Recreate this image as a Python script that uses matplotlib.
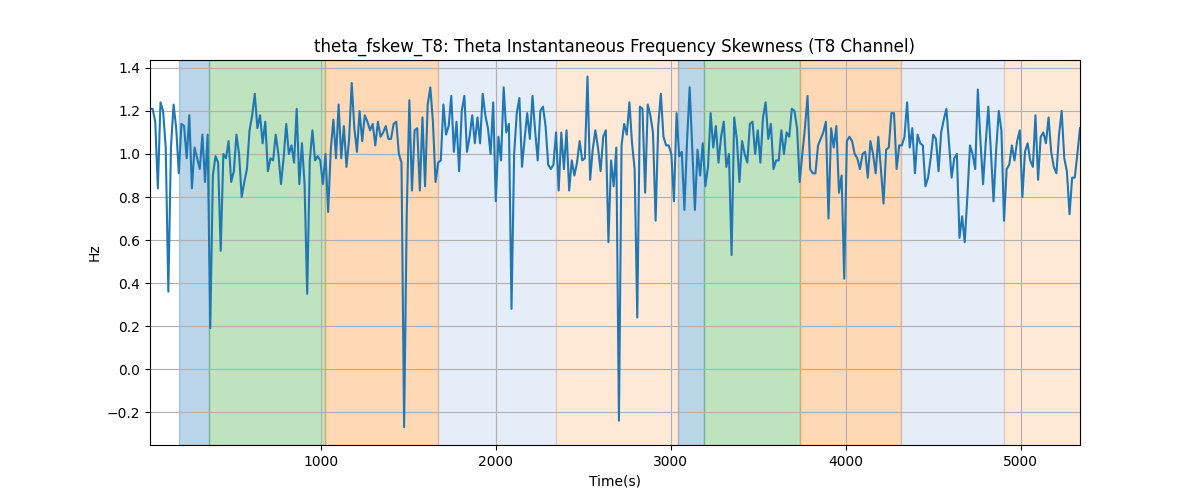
import numpy as np
import matplotlib
matplotlib.use("Agg")
import matplotlib.pyplot as plt

# skewness values, left to right
values = [
    1.21, 1.21, 1.15, 0.84, 1.24, 1.20, 1.03, 0.36, 1.03, 1.23, 1.12, 0.91,
    1.14, 1.13, 0.98, 1.18, 0.84, 1.03, 0.98, 0.93, 1.09, 0.87, 1.09, 0.19,
    0.90, 0.99, 0.96, 0.55, 1.00, 0.98, 1.06, 0.87, 0.92, 1.09, 1.00, 0.80,
    0.87, 0.93, 1.11, 1.18, 1.28, 1.12, 1.18, 1.05, 1.15, 0.92, 0.98, 0.97,
    1.09, 1.00, 0.86, 0.98, 1.14, 1.00, 1.04, 0.96, 1.21, 0.86, 1.05, 0.86,
    0.35, 0.97, 1.11, 0.97, 0.99, 0.97, 0.86, 1.00, 0.73, 1.02, 1.16, 0.98,
    1.23,
    0.98, 1.13, 0.94, 1.07, 1.33, 1.12, 1.01, 1.20, 1.06, 1.18, 1.15, 1.11,
    1.14, 1.04, 1.15, 1.08, 1.10, 1.13, 1.07, 1.07, 1.14, 1.15, 1.00, 0.96,
    -0.27, 0.72, 1.25, 0.83, 1.11, 1.12, 0.83, 1.17, 0.85, 1.23, 1.31, 1.15,
    0.87, 0.96, 0.97, 1.23, 1.09, 1.13, 1.27, 1.01, 1.15, 0.92, 1.20, 1.27,
    1.01, 1.08, 1.18, 1.05, 1.17, 1.05, 1.28, 1.18, 1.12, 1.00, 1.24, 0.78,
    1.08, 0.97, 1.31, 1.10, 1.14, 0.28, 1.00, 1.19, 1.26, 0.94, 1.07, 1.19,
    1.07,
    1.27, 1.11, 0.97, 1.20, 1.22, 1.13, 0.95, 0.93, 0.95, 1.10, 0.83, 1.10,
    0.93, 1.11, 0.83, 0.97, 0.90, 0.96, 1.06, 0.97, 0.98, 1.36, 0.88, 1.02,
    1.11, 1.03, 0.92, 1.08, 1.11, 0.59, 0.97, 0.85, 1.03, -0.24, 1.04, 1.14,
    1.09, 1.24, 1.05, 0.93, 0.24, 1.22, 1.21, 0.82, 1.23, 1.18, 1.10, 0.69,
    1.13, 1.28, 1.08, 1.04, 1.04, 1.00, 0.78, 1.19, 0.99, 1.01, 0.74, 1.06,
    1.31, 1.02, 0.74, 1.02, 0.90, 1.05, 0.85, 0.94, 1.19, 1.03, 1.13, 0.96,
    1.08, 1.15, 0.94, 1.00, 0.53, 1.17, 1.07, 0.87, 1.06, 1.00, 0.96, 1.14,
    1.15, 1.00, 1.11, 0.96, 1.17, 1.24, 1.07, 1.14, 0.93, 0.97, 0.97, 1.11,
    1.00, 1.10, 1.08, 1.21, 1.20, 1.12, 0.87, 1.00, 1.12, 1.27, 0.93, 0.91,
    0.91, 1.04, 1.07, 1.10, 1.15, 0.70, 1.12, 1.03, 1.13, 0.82, 0.90, 0.42,
    1.06, 1.08, 1.06, 1.00, 0.98, 0.93, 1.00, 1.01, 0.89, 1.06, 1.00, 0.91,
    1.08, 0.93, 0.77, 1.02, 1.03, 1.19, 1.19, 0.93, 1.04, 1.04, 1.08, 1.24,
    1.03,
    1.12, 0.91, 1.09, 1.05, 1.04, 0.85, 0.89, 0.98, 1.09, 1.07, 0.92, 1.10,
    1.16, 1.21, 1.05, 0.89, 0.98, 1.00, 0.61, 0.71, 0.59, 0.80, 1.04, 1.00,
    0.93, 1.30, 1.06, 0.86, 1.05, 1.22, 1.01, 0.78, 1.02, 1.20, 1.11, 0.69,
    0.93, 0.95, 1.04, 0.97, 1.06, 1.11, 0.80, 1.01, 1.05, 0.97, 0.94, 1.18,
    0.88, 1.08, 1.10, 1.05, 1.17, 1.01, 0.94, 0.91, 1.09, 1.20, 0.98, 0.92,
    0.72, 0.89, 0.89, 1.00, 1.12,
]
t_start, t_end = 25, 5340
time = np.linspace(t_start, t_end, len(values))

# shaded segments: (start, end, colour, alpha)
seg_start = [193, 365, 1023, 1670, 2345, 3043, 3192, 3741, 4319, 4903]
seg_end = [365, 1023, 1670, 2345, 3043, 3192, 3741, 4319, 4903, 5343]
seg_color = ['tab:blue', 'tab:green', 'tab:orange', '#4c82d0', 'tab:orange',
             'tab:blue', 'tab:green', 'tab:orange', '#4c82d0', 'tab:orange']
seg_alpha = [0.3, 0.3, 0.3, 0.14, 0.17, 0.3, 0.3, 0.3, 0.14, 0.17]

fig, ax = plt.subplots(figsize=(12, 5), dpi=100)

for s, e, c, a in zip(seg_start, seg_end, seg_color, seg_alpha):
    ax.axvspan(s, e, color=c, alpha=a)

ax.plot(time, values, color='tab:blue', lw=1.5)

ax.set_xlim(t_start, t_end)
ax.set_ylim(-0.353, 1.437)
ax.grid(True)
ax.set_title('theta_fskew_T8: Theta Instantaneous Frequency Skewness (T8 Channel)')
ax.set_xlabel('Time(s)')
ax.set_ylabel('Hz')

plt.savefig('out.png')
